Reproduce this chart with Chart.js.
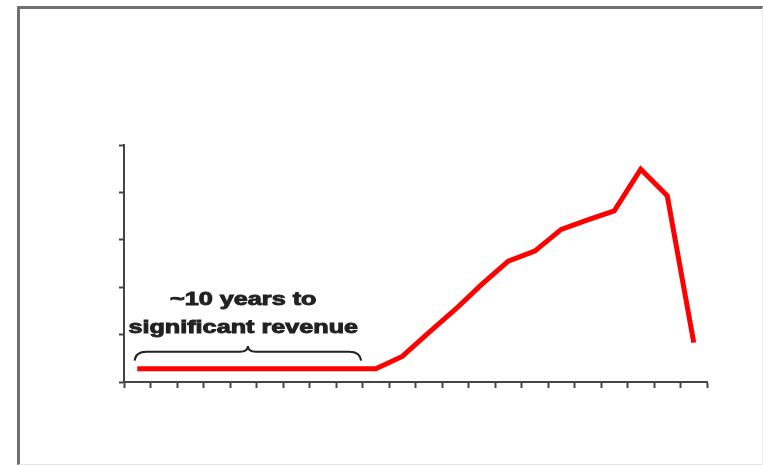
<!DOCTYPE html>
<html>
<head>
<meta charset="utf-8">
<script src="https://cdn.jsdelivr.net/npm/chart.js@4/dist/chart.umd.min.js"></script>
<style>
  body { margin: 0; background: #fff; }
  #wrap { position: relative; width: 763px; height: 465px; }
  #frame {
    position: absolute; left: 17px; top: 6px; width: 742px; height: 455px;
    border-left: 3px solid #707070; border-top: 3px solid #707070;
    border-right: 1px solid #ececec; border-bottom: 1px solid #e4e4e4;
  }
  canvas { position: absolute; left: 0; top: 0; }
</style>
</head>
<body>
<div id="wrap">
  <div id="frame"></div>
  <canvas id="revenue" width="763" height="465"></canvas>
</div>
<script>
// years since start (no labels shown on the original)
var years = ['1', '2', '3', '4', '5', '6', '7', '8', '9', '10', '11',
             '12', '13', '14', '15', '16', '17', '18', '19', '20', '21', '22'];
// revenue, arbitrary units
var revenue = [0.28, 0.28, 0.28, 0.28, 0.28, 0.28, 0.28, 0.28, 0.28, 0.28,
               0.54, 1.04, 1.53, 2.06, 2.55, 2.76, 3.22, 3.42, 3.61, 4.49, 3.93, 0.83];
var noteLines = ['~10 years to', 'significant revenue'];

// curly brace + caption over the first ten years
var bracePlugin = {
    id: 'brace',
    afterDatasetsDraw: function(chart) {
        var ctx = chart.ctx;
        var x = chart.scales.x, y = chart.scales.y;
        var x0 = x.getPixelForValue(-0.1);
        var x1 = x.getPixelForValue(8.45);
        var xm = (x0 + x1) / 2;
        var yEnd = y.getPixelForValue(0.45);
        var yBar = y.getPixelForValue(0.64);
        var yTip = y.getPixelForValue(0.76);

        ctx.save();
        ctx.strokeStyle = '#222';
        ctx.lineWidth = 2;
        ctx.beginPath();
        ctx.moveTo(x0, yEnd);
        ctx.quadraticCurveTo(x0 + 1, yBar, x0 + 12, yBar);
        ctx.lineTo(xm - 8, yBar);
        ctx.quadraticCurveTo(xm, yBar, xm, yTip);
        ctx.quadraticCurveTo(xm, yBar, xm + 8, yBar);
        ctx.lineTo(x1 - 12, yBar);
        ctx.quadraticCurveTo(x1 - 1, yBar, x1, yEnd);
        ctx.stroke();

        ctx.fillStyle = '#222';
        ctx.strokeStyle = '#222';
        ctx.lineWidth = 0.9;
        ctx.font = 'bold 18px "Liberation Sans", Arial, sans-serif';
        ctx.textAlign = 'center';
        ctx.textBaseline = 'alphabetic';
        var tx = x.getPixelForValue(4);
        var rows = [1.63, 1.04];
        for (var i = 0; i < noteLines.length; i++) {
            ctx.save();
            ctx.translate(tx, y.getPixelForValue(rows[i]));
            ctx.scale(1.4, 1);
            ctx.fillText(noteLines[i], 0, 0);
            ctx.strokeText(noteLines[i], 0, 0);
            ctx.restore();
        }
        ctx.restore();
    }
};

var ctx = document.getElementById('revenue').getContext('2d');
var chart = new Chart(ctx, {
    type: 'line',
    data: {
        labels: years,
        datasets: [{
            data: revenue,
            borderColor: '#ff0000',
            borderWidth: 5,
            pointRadius: 0,
            tension: 0,
            fill: false
        }]
    },
    options: {
        responsive: false,
        animation: false,
        layout: { padding: { left: 119, right: 56, top: 145, bottom: 77 } },
        plugins: {
            legend: { display: false },
            tooltip: { enabled: false }
        },
        scales: {
            x: {
                offset: true,
                grid: { offset: true, drawOnChartArea: false, tickLength: 6, tickWidth: 2, color: '#444' },
                border: { color: '#444', width: 2 },
                ticks: { display: false }
            },
            y: {
                min: 0,
                max: 5,
                ticks: { display: false, stepSize: 1 },
                grid: { drawOnChartArea: false, tickLength: 5, tickWidth: 2, color: '#444' },
                border: { color: '#444', width: 2 }
            }
        }
    },
    plugins: [bracePlugin]
});
</script>
</body>
</html>
